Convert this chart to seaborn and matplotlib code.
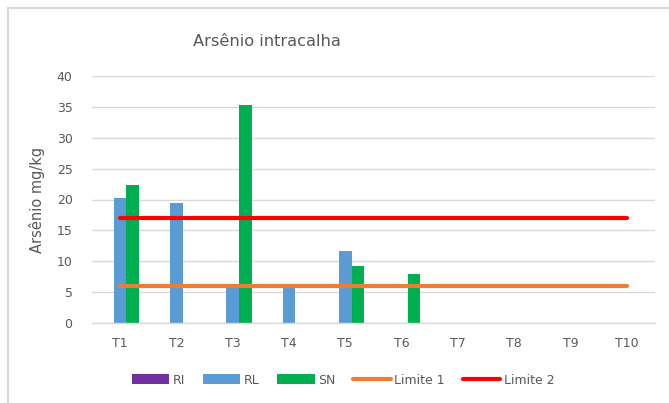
import numpy as np
import pandas as pd
import matplotlib
matplotlib.use("Agg")
import matplotlib.pyplot as plt
import seaborn as sns
from matplotlib.patches import Patch, Rectangle
from matplotlib.lines import Line2D

categories = ["T1", "T2", "T3", "T4", "T5", "T6", "T7", "T8", "T9", "T10"]
ri_values = [0, 0, 0, 0, 0, 0, 0, 0, 0, 0]
rl_values = [20.3, 19.4, 6.0, 6.0, 11.6, 0, 0, 0, 0, 0]
sn_values = [22.3, 0, 35.3, 0, 9.2, 8.0, 0, 0, 0, 0]
limite1 = [6] * 10
limite2 = [17] * 10
series_names = ["RI", "RL", "SN"]
colors = {"RI": "#7030A0", "RL": "#5B9BD5", "SN": "#00B050"}
line_colors = {"Limite 1": "#ED7D31", "Limite 2": "#FF0000"}

df = pd.DataFrame({
    "cat": categories * 3,
    "serie": ["RI"] * 10 + ["RL"] * 10 + ["SN"] * 10,
    "val": ri_values + rl_values + sn_values,
})

sns.set_style("white")
plt.rcParams['font.family'] = ['DejaVu Sans']
txt = "#595959"

fig = plt.figure(figsize=(6.69, 4.03), dpi=100)
ax = fig.add_axes([92/669, 1-323/403, (655-92)/669, (323-76)/403])

sns.barplot(data=df, x="cat", y="val", hue="serie", order=categories,
            hue_order=series_names, palette=colors, width=0.667, saturation=1,
            edgecolor="none", linewidth=0, ax=ax, legend=False)

xs = np.arange(len(categories))
ax.plot(xs, limite1, color=line_colors["Limite 1"], lw=3.0, solid_capstyle="round", zorder=5)
ax.plot(xs, limite2, color=line_colors["Limite 2"], lw=3.0, solid_capstyle="round", zorder=5)

ax.set_xlim(-0.5, 9.5)
ax.set_ylim(0, 40)
ax.set_yticks(range(0, 41, 5))
ax.yaxis.grid(True, color="#D9D9D9", lw=1.0)
ax.set_axisbelow(True)
for s in ["top", "right", "left"]:
    ax.spines[s].set_visible(False)
ax.spines["bottom"].set_color("#D9D9D9")
ax.spines["bottom"].set_linewidth(1.0)
ax.tick_params(axis="both", length=0, labelsize=9, colors=txt, pad=10)
ax.tick_params(axis="y", pad=14)
ax.set_xlabel("")
ax.set_ylabel("Arsênio mg/kg", fontsize=10.5, color=txt, labelpad=8)
ax.yaxis.set_label_coords(-(92-45)/563, 0.5)

fig.text(267/669, 1-42/403, "Arsênio intracalha", ha="center", va="center",
         fontsize=11.7, color=txt)

handles = [Patch(facecolor=colors[n], edgecolor="none", label=n) for n in series_names]
handles += [Line2D([0], [0], color=line_colors[n], lw=3.0, solid_capstyle="round", label=n)
            for n in ["Limite 1", "Limite 2"]]
fig.legend(handles=handles, loc="center", bbox_to_anchor=(343/669, 1-380/403), ncol=5,
           frameon=False, fontsize=9, labelcolor=txt, handlelength=3.0,
           handleheight=0.8, handletextpad=0.3, columnspacing=1.4)

fig.add_artist(Rectangle((7.5/669, -0.1), 1.2, (403-7.5)/403 + 0.1, transform=fig.transFigure,
                         fill=False, edgecolor="#D9D9D9", lw=1.5))

fig.savefig("out.png", dpi=100, facecolor="white")
